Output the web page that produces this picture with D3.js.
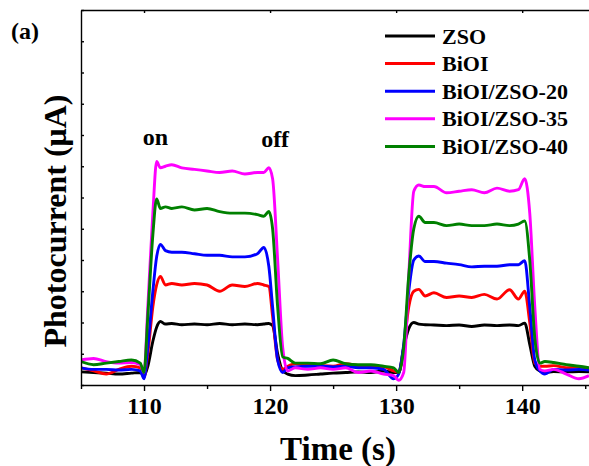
<!DOCTYPE html>
<html>
<head>
<meta charset="utf-8">
<script src="https://cdn.jsdelivr.net/npm/d3@7"></script>
<style>
  body { margin: 0; background: #fff; }
  text { font-family: "Liberation Serif", "Times New Roman", serif; font-weight: bold; }
</style>
</head>
<body>
<div id="chart"></div>
<script>
//////////////////////////// data /////////////////////////////////////////

const times = [105, 106, 107, 108, 109, 109.7, 110.0, 110.3, 110.7, 111.0, 111.3, 111.7, 112.2, 113, 114, 115, 116, 117, 118, 119, 119.5, 119.9, 120.2, 120.6, 121.0, 121.4, 122, 123, 124, 125, 126, 127, 128, 129, 129.8, 130.2, 130.6, 131.0, 131.4, 131.8, 132.3, 133, 134, 135, 136, 137, 138, 139, 139.7, 140.2, 140.6, 141.0, 141.4, 141.8, 142.5, 143.5, 144.5, 145.3];

const zso = [0.42, 0.40, 0.38, 0.35, 0.38, 0.40, 0.30, 0.60, 1.40, 1.85, 2.03, 1.95, 1.97, 1.93, 1.95, 1.93, 1.97, 1.93, 1.95, 1.93, 1.95, 1.97, 1.90, 1.00, 0.45, 0.35, 0.30, 0.32, 0.35, 0.38, 0.40, 0.42, 0.40, 0.45, 0.40, 0.40, 1.20, 1.80, 2.00, 1.95, 1.93, 1.92, 1.90, 1.92, 1.87, 1.92, 1.90, 1.92, 1.90, 1.98, 1.30, 0.60, 0.45, 0.40, 0.43, 0.42, 0.43, 0.42];

const bioi = [0.55, 0.45, 0.35, 0.50, 0.60, 0.55, 0.25, 1.00, 2.50, 3.20, 3.47, 3.20, 3.25, 3.20, 3.25, 3.20, 3.00, 3.20, 3.15, 3.25, 3.20, 3.15, 2.20, 0.80, 0.50, 0.60, 0.68, 0.65, 0.62, 0.60, 0.68, 0.62, 0.60, 0.58, 0.45, 0.40, 1.20, 2.50, 3.00, 3.06, 2.85, 2.95, 2.80, 2.85, 2.80, 2.90, 2.75, 3.05, 2.75, 3.00, 2.00, 0.70, 0.60, 0.60, 0.62, 0.55, 0.58, 0.50];

const bz20 = [0.55, 0.50, 0.50, 0.48, 0.50, 0.45, 0.20, 1.20, 3.00, 4.10, 4.50, 4.30, 4.25, 4.25, 4.20, 4.15, 4.15, 4.10, 4.10, 4.20, 4.40, 3.80, 2.50, 0.80, 0.40, 0.55, 0.58, 0.60, 0.60, 0.58, 0.60, 0.55, 0.55, 0.50, 0.20, 0.35, 1.30, 3.00, 4.00, 4.13, 3.95, 3.95, 3.90, 3.85, 3.78, 3.80, 3.80, 3.85, 3.85, 3.98, 2.50, 0.80, 0.45, 0.35, 0.50, 0.48, 0.50, 0.48];

const bz35 = [0.80, 0.85, 0.75, 0.70, 0.72, 0.65, 0.40, 2.50, 5.50, 7.15, 6.95, 7.00, 7.05, 6.95, 6.90, 6.85, 6.80, 6.85, 6.75, 6.80, 6.80, 6.95, 6.60, 4.00, 1.20, 0.45, 0.55, 0.50, 0.55, 0.50, 0.55, 0.40, 0.45, 0.35, 0.30, 0.15, 0.40, 3.50, 6.20, 6.40, 6.35, 6.35, 6.15, 6.20, 6.25, 6.15, 6.30, 6.20, 6.25, 6.60, 5.50, 2.50, 0.50, 0.45, 0.50, 0.35, 0.20, 0.30];

const bz40 = [0.75, 0.65, 0.70, 0.75, 0.80, 0.70, 0.40, 2.20, 4.80, 5.95, 5.65, 5.70, 5.65, 5.70, 5.60, 5.65, 5.55, 5.50, 5.50, 5.45, 5.40, 5.55, 5.00, 2.50, 0.90, 0.85, 0.70, 0.70, 0.68, 0.80, 0.68, 0.65, 0.65, 0.60, 0.55, 0.40, 1.20, 3.50, 5.00, 5.40, 5.20, 5.20, 5.10, 5.15, 5.10, 5.10, 5.15, 5.10, 5.15, 5.25, 4.00, 1.50, 0.70, 0.75, 0.72, 0.65, 0.60, 0.55];

const seriesNames = ["ZSO", "BiOI", "BiOI/ZSO-20", "BiOI/ZSO-35", "BiOI/ZSO-40"];
const seriesColors = ["#000000", "#ff0000", "#0000ff", "#ff00ff", "#008000"];
const seriesValues = [zso, bioi, bz20, bz35, bz40];

const xMajorTicks = [110, 120, 130, 140];
const xMinorTicks = [105, 115, 125, 135, 145];
const yTicks = d3.range(0, 13);

//////////////////////////// sizes ///////////////////////////////////

let dimensions = {
  width: 589,
  height: 466,
  margin: { top: 10, right: 0, bottom: 81, left: 81 }
};
dimensions.boundedWidth = dimensions.width - dimensions.margin.left - dimensions.margin.right;
dimensions.boundedHeight = dimensions.height - dimensions.margin.top - dimensions.margin.bottom;

//////////////////////////// svg ///////////////////////////////////

const wrapper = d3.select("#chart").append("svg")
  .attr("width", dimensions.width)
  .attr("height", dimensions.height);

const bounds = wrapper.append("g")
  .attr("transform", `translate(${dimensions.margin.left},${dimensions.margin.top})`);

//////////////////////////// scales ///////////////////////////////////////

const xScale = d3.scaleLinear()
  .domain([105, 145.3])
  .range([0, dimensions.boundedWidth]);

const yScale = d3.scaleLinear()
  .domain([0, 12])
  .range([dimensions.boundedHeight, 0]);

//////////////////////////// lines ///////////////////////////////////////

bounds.append("clipPath").attr("id", "clip")
  .append("rect")
  .attr("width", dimensions.boundedWidth)
  .attr("height", dimensions.boundedHeight);

const lineGen = d3.line()
  .x(d => xScale(d[0]))
  .y(d => yScale(d[1]))
  .curve(d3.curveMonotoneX);

const lines = bounds.append("g").attr("clip-path", "url(#clip)");

seriesValues.forEach((vals, i) => {
  lines.append("path")
    .datum(times.map((t, j) => [t, vals[j]]))
    .attr("fill", "none")
    .attr("stroke", seriesColors[i])
    .attr("stroke-width", 2.9)
    .attr("stroke-linejoin", "round")
    .attr("d", lineGen);
});

//////////////////////////// axes ///////////////////////////////////////

const xAxis = bounds.append("g")
  .attr("transform", `translate(0,${dimensions.boundedHeight})`)
  .call(d3.axisBottom(xScale).tickValues(xMajorTicks).tickSize(6).tickSizeOuter(0).tickPadding(6));

bounds.append("g")
  .attr("transform", `translate(0,${dimensions.boundedHeight})`)
  .call(d3.axisBottom(xScale).tickValues(xMinorTicks).tickSize(4).tickSizeOuter(0).tickFormat(""))
  .select(".domain").remove();

xAxis.selectAll("text")
  .attr("font-size", 24)
  .attr("fill", "#000");

// top border with small inward ticks
bounds.append("g")
  .call(d3.axisBottom(xScale).tickValues(xMajorTicks).tickSize(3).tickSizeOuter(0).tickFormat(""));

bounds.append("g")
  .call(d3.axisRight(yScale).tickValues(yTicks).tickSize(3).tickSizeOuter(0).tickFormat(""));

bounds.selectAll(".domain, .tick line")
  .attr("stroke", "#000")
  .attr("stroke-width", 1.4);

//////////////////////////// labels ///////////////////////////////////////

wrapper.append("text")
  .attr("x", dimensions.margin.left + dimensions.boundedWidth / 2 + 3)
  .attr("y", 460)
  .attr("text-anchor", "middle")
  .attr("font-size", 33)
  .text("Time (s)");

wrapper.append("text")
  .attr("transform", "translate(66,221) rotate(-90)")
  .attr("text-anchor", "middle")
  .attr("font-size", 32)
  .text("Photocurrent (μA)");

wrapper.append("text")
  .attr("x", 11).attr("y", 39)
  .attr("font-size", 24)
  .text("(a)");

bounds.append("text")
  .attr("x", xScale(110.9)).attr("y", 135)
  .attr("text-anchor", "middle")
  .attr("font-size", 24)
  .text("on");

bounds.append("text")
  .attr("x", xScale(120.4)).attr("y", 137)
  .attr("text-anchor", "middle")
  .attr("font-size", 24)
  .text("off");

//////////////////////////// legend ///////////////////////////////////////

const legend = wrapper.append("g").attr("transform", "translate(385,36)");

const legendItems = legend.selectAll(".item")
  .data(seriesNames)
  .enter()
  .append("g")
  .attr("class", "item")
  .attr("transform", (d, i) => `translate(0,${i * 27.6})`);

legendItems.append("line")
  .attr("x1", 0).attr("x2", 50)
  .attr("stroke", (d, i) => seriesColors[i])
  .attr("stroke-width", 3);

legendItems.append("text")
  .attr("x", 57).attr("y", 7.5)
  .attr("font-size", 22)
  .text(d => d);
</script>
</body>
</html>
